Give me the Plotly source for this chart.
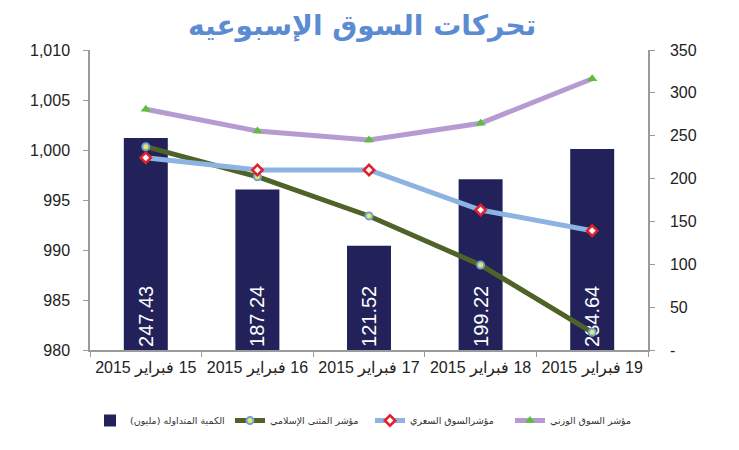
import plotly.graph_objects as go

# ---- data ----
dates = ["15 فبراير 2015", "16 فبراير 2015", "17 فبراير 2015", "18 فبراير 2015", "19 فبراير 2015"]
volume = [247.43, 187.24, 121.52, 199.22, 234.64]          # الكمية المتداوله (مليون) - right axis
muthanna = [1000.33, 997.33, 993.4, 988.5, 981.77]          # مؤشر المثنى الإسلامي - left axis
price_idx = [999.23, 998.0, 998.0, 994.0, 991.93]           # مؤشرالسوق السعري - left axis
weighted_idx = [1004.07, 1001.9, 1001.0, 1002.67, 1007.13]  # مؤشر السوق الوزني - left axis

names = ["الكمية المتداوله (مليون)", "مؤشر المثنى الإسلامي", "مؤشرالسوق السعري", "مؤشر السوق الوزني"]
title_text = "تحركات السوق الإسبوعيه"

left_ticks = [980, 985, 990, 995, 1000, 1005, 1010]
right_ticks = [0, 50, 100, 150, 200, 250, 300, 350]
right_ticktext = ["-", "50", "100", "150", "200", "250", "300", "350"]


def rtl(s):
    return "\u202B" + s + "\u202C"


x_labels = [rtl(d) for d in dates]

fig = go.Figure()

fig.add_trace(go.Bar(
    x=x_labels, y=volume, name=rtl(names[0]),
    marker=dict(color="#22215a", line=dict(width=0)),
    text=[f"{v:.2f}" for v in volume],
    textposition="inside", insidetextanchor="start", textangle=-90,
    textfont=dict(color="white", size=20, family="Liberation Sans, Arial"),
    yaxis="y",
))

fig.add_trace(go.Scatter(
    x=x_labels, y=muthanna, name=rtl(names[1]), mode="lines+markers",
    line=dict(color="#4f6228", width=5),
    marker=dict(symbol="circle", size=7, color="#e8e85a", line=dict(color="#6fa0d8", width=2)),
    yaxis="y2",
))

fig.add_trace(go.Scatter(
    x=x_labels, y=price_idx, name=rtl(names[2]), mode="lines+markers",
    line=dict(color="#8db3e2", width=5),
    marker=dict(symbol="diamond", size=8, color="white", line=dict(color="#e0202a", width=2.5)),
    yaxis="y2",
))

fig.add_trace(go.Scatter(
    x=x_labels, y=weighted_idx, name=rtl(names[3]), mode="lines+markers",
    line=dict(color="#b59bd2", width=5),
    marker=dict(symbol="triangle-up", size=9, color="#5cbf3a"),
    yaxis="y2",
))

axis_font = dict(family="Liberation Sans, Arial", size=16, color="#222222")

fig.update_layout(
    width=739, height=450,
    margin=dict(l=90, r=91, t=50, b=100),
    paper_bgcolor="white", plot_bgcolor="white",
    bargap=0.606,
    showlegend=True,
    title=dict(
        text=title_text, x=0.49, xanchor="center", y=0.943, yanchor="middle",
        font=dict(family="DejaVu Sans", size=28, color="#5b8bd2", weight="bold"),
    ),
    xaxis=dict(
        type="category", showgrid=False, showline=True, linecolor="#9a9a9a", linewidth=1.5,
        ticks="outside", tickson="boundaries", ticklen=5, tickcolor="#9a9a9a",
        tickfont=axis_font, ticklabelstandoff=2,
    ),
    yaxis=dict(
        side="right", range=[0, 350], tickvals=right_ticks, ticktext=right_ticktext,
        showgrid=False, showline=True, linecolor="#9a9a9a", linewidth=1.5,
        ticks="outside", ticklen=5, tickcolor="#9a9a9a", tickfont=axis_font,
        ticklabelstandoff=12, zeroline=False,
    ),
    yaxis2=dict(
        overlaying="y", side="left", range=[980, 1010], tickvals=left_ticks,
        tickformat=",d", showgrid=False, showline=True, linecolor="#9a9a9a", linewidth=1.5,
        ticks="outside", ticklen=5, tickcolor="#9a9a9a", tickfont=axis_font,
        ticklabelstandoff=10, zeroline=False,
    ),
    legend=dict(
        orientation="h", x=0.0, xanchor="left", y=-0.235, yanchor="middle",
        font=dict(family="DejaVu Sans, Liberation Serif", size=9.5, color="#333333"),
        entrywidth=95, entrywidthmode="pixels", traceorder="normal",
        bgcolor="rgba(0,0,0,0)",
    ),
)

fig.write_html("out.html")
